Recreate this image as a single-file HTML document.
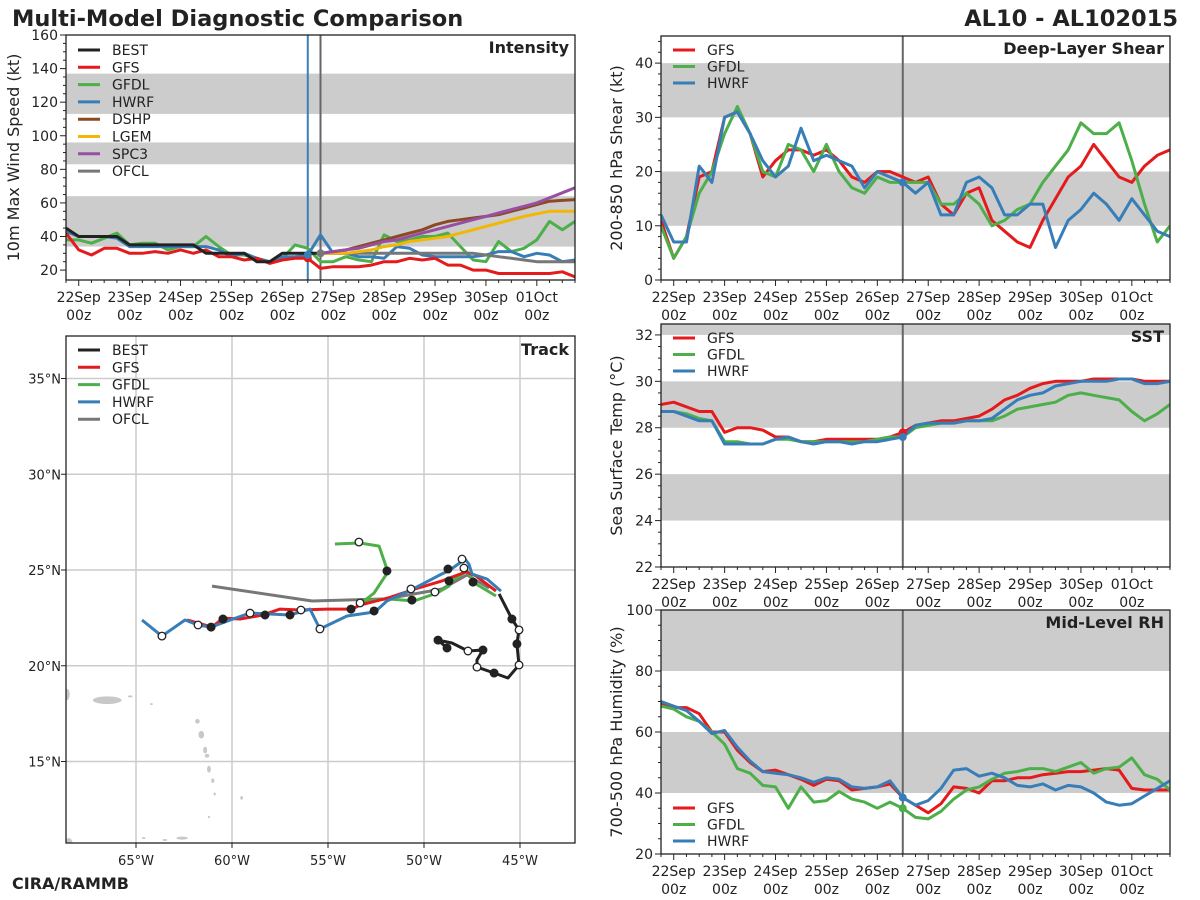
<!DOCTYPE html>
<html><head><meta charset="utf-8"><title>Multi-Model Diagnostic Comparison</title>
<style>
html,body{margin:0;padding:0;background:#fff;}
svg{display:block;font-family:"DejaVu Sans","Liberation Sans",sans-serif;}
</style></head>
<body>
<svg id="fig" width="1200" height="900" viewBox="0 0 1200 900" xmlns="http://www.w3.org/2000/svg">
<text x="12" y="26" font-size="22.5" font-weight="bold" fill="#222">Multi-Model Diagnostic Comparison</text>
<text x="1178" y="26" font-size="22.5" font-weight="bold" fill="#222" text-anchor="end">AL10 - AL102015</text>
<text x="12" y="889" font-size="16" font-weight="bold" fill="#222">CIRA/RAMMB</text>
</svg>
<script>
// ---------- DATA ----------
const T = [-0.25,0,0.25,0.5,0.75,1,1.25,1.5,1.75,2,2.25,2.5,2.75,3,3.25,3.5,3.75,4,4.25,4.5,4.75,5,5.25,5.5,5.75,6,6.25,6.5,6.75,7,7.25,7.5,7.75,8,8.25,8.5,8.75,9,9.25,9.5,9.75];
const dayLabels = ["22Sep","23Sep","24Sep","25Sep","26Sep","27Sep","28Sep","29Sep","30Sep","01Oct"];
const nowT = 4.5;
const ofclT = 4.75;

const intBEST = [45,40,40,40,40,35,35,35,35,35,35,30,30,30,30,25,25,30,30,30,30];
const intGFS  = [42,32,29,33,33,30,30,31,30,32,30,32,28,28,26,27,24,26,27,27,21,22,22,22,23,25,25,27,26,27,23,23,20,20,18,18,18,18,18,19,16];
const intGFDL = [38,38,36,39,42,35,36,36,32,34,34,40,34,29,29,27,25,27,35,33,25,25,28,26,25,41,37,38,40,40,42,34,26,25,37,31,33,38,49,44,49];
const intHWRF = [43,40,40,40,39,34,34,34,34,34,34,34,32,28,30,27,25,28,28,29,41,30,30,28,28,27,34,33,29,28,28,28,28,29,31,31,28,30,29,25,26];
const intDSHP = [30,31,32,34,36,38,40,42,44,47,49,50,51,52,53,55,57,59,61,61.5,62];
const intLGEM = [30,30,30,31,32,34,35,37,38,39,40,42,44,46,48,50,52,53.5,55,55,55];
const intSPC3 = [30,31,32,33,35,37,38,40,42,44,46,48,50,52,54,56,58,60,63,66,69];
const intOFCL = [30,30,30,30,30,30,30,30,30,30,30,30,30,29,28,27,26,25,25,25,25];
const fcstStart = 20;

const shrGFS  = [11,4,8,19,20,30,31,27,19,22,24,24,23,24,22,19,18,20,20,19,18,19,14,12,16,17,11,9,7,6,11,15,19,21,25,22,19,18,21,23,24];
const shrGFDL = [10,4,8,16,20,27,32,27,20,19,25,24,20,25,20,17,16,19,18,18,18,18,14,14,16,14,10,11,13,14,18,21,24,29,27,27,29,22,14,7,10];
const shrHWRF = [12,7,7,21,18,30,31,27,22,19,21,28,22,23,22,21,17,20,19,18,16,18,12,12,18,19,17,12,12,14,14,6,11,13,16,14,11,15,12,9,8];

const sstGFS  = [29.0,29.1,28.9,28.7,28.7,27.8,28.0,28.0,27.9,27.6,27.6,27.4,27.4,27.5,27.5,27.5,27.5,27.5,27.6,27.8,28.1,28.2,28.3,28.3,28.4,28.5,28.8,29.2,29.4,29.7,29.9,30.0,30.0,30.0,30.1,30.1,30.1,30.1,30.0,30.0,30.0];
const sstGFDL = [28.7,28.7,28.6,28.4,28.3,27.4,27.4,27.3,27.3,27.5,27.5,27.4,27.4,27.4,27.4,27.4,27.4,27.5,27.6,27.6,28.0,28.1,28.2,28.2,28.3,28.3,28.3,28.5,28.8,28.9,29.0,29.1,29.4,29.5,29.4,29.3,29.2,28.7,28.3,28.6,29.0];
const sstHWRF = [28.7,28.7,28.5,28.3,28.3,27.3,27.3,27.3,27.3,27.5,27.6,27.4,27.3,27.4,27.4,27.3,27.4,27.4,27.5,27.6,28.1,28.2,28.2,28.2,28.3,28.3,28.4,28.8,29.2,29.4,29.5,29.8,29.9,30.0,30.0,30.0,30.1,30.1,29.9,29.9,30.0];

const rhGFS  = [69,68,68,66,60,60,54,50,47,47.5,46,44.5,42.5,44.5,44,41,41.5,42,43,38.5,36,33.5,36.5,42,41.5,40,44,44,45,45,46,46.5,47,47,47.5,48,47.5,41.5,41,41,41];
const rhGFDL = [68.5,67.5,65,63.5,60,56,48,46.5,42.5,42,35,42,37,37.5,40.5,38,37,35,37,35,32,31.5,34,38,41,42,44.5,46.5,47,48,48,47,48.5,50,46.5,48,48.5,51.5,46,44.5,41];
const rhHWRF = [70,68.5,67,63.5,59.5,60.5,55,50.5,47,46.5,46,45,43.5,45,44.5,42,41.5,42,44,38.5,36,37.5,41.5,47.5,48,45.5,46.5,45,42.5,42,43,41,42.5,42,40,37,36,36.5,39,41.5,44];

// Track data (lon, lat)
const trkHWRFlon = [-64.69,-63.65,-62.45,-61.77,-61.09,-59.95,-59.06,-56.98,-55.94,-55.42,-54.01,-52.55,-51.93,-50.57,-49.27,-48.65,-47.86,-47.66,-47.50,-46.72,-45.99];
const trkHWRFlat = [22.39,21.55,22.39,22.13,22.02,22.44,22.75,22.65,22.96,21.92,22.60,22.81,23.38,24.01,24.69,25.0,25.57,25.31,24.79,24.53,23.90];
const trkGFSlon = [-62.34,-61.04,-60.47,-59.58,-58.39,-57.50,-56.46,-55.05,-53.75,-53.33,-51.88,-50.47,-49.06,-47.81,-47.29,-46.25];
const trkGFSlat = [22.39,22.02,22.49,22.44,22.65,22.96,22.91,22.96,22.96,23.17,23.54,24.01,24.43,24.90,24.69,23.90];
const trkGFDLlon = [-54.64,-53.33,-52.34,-51.88,-52.60,-53.13,-51.88,-50.52,-49.32,-48.70,-48.54,-47.76,-47.29,-46.25];
const trkGFDLlat = [26.36,26.41,26.25,24.90,23.80,23.38,23.49,23.38,23.80,24.16,24.43,24.95,24.27,23.64];
const trkOFCLlon = [-61.04,-55.83,-51.98,-49.06,-47.76,-46.61];
const trkOFCLlat = [24.16,23.38,23.49,24.01,24.74,24.06];
const trkBESTlon = [-48.80,-49.27,-48.54,-47.71,-46.93,-47.24,-47.24,-46.35,-45.63,-45.05,-45.16,-45.05,-45.42,-46.09];
const trkBESTlat = [20.93,21.34,21.19,20.77,20.82,20.30,19.93,19.62,19.36,20.04,21.14,21.87,22.44,23.75];
const mkOpenLon = [-63.65,-61.77,-59.06,-56.41,-55.42,-53.39,-53.33,-50.68,-49.43,-48.02,-47.92,-47.71,-47.24,-45.05,-45.05];
const mkOpenLat = [21.55,22.13,22.75,22.91,21.92,26.46,23.28,24.01,23.85,25.57,25.10,20.77,19.93,20.04,21.87];
const mkFillLon = [-61.09,-60.47,-58.28,-56.98,-53.80,-52.60,-51.93,-50.63,-48.75,-48.70,-47.45,-46.93,-46.35,-45.16,-45.42,-49.27,-48.80];
const mkFillLat = [22.02,22.44,22.65,22.65,22.96,22.86,24.95,23.43,25.05,24.43,24.37,20.82,19.62,21.14,22.44,21.34,20.93];
const lonTicks = [-65,-60,-55,-50,-45];
const latTicks = [15,20,25,30,35];
// islands: lon, lat, rx(deg), ry(deg)
const islLon = [-66.5,-68.6,-65.3,-64.2,-61.8,-61.6,-61.4,-61.3,-61.2,-61.0,-60.9,-59.5,-61.2,-62.6,-63.5,-68.5,-64.6];
const islLat = [18.2,18.5,18.4,18.0,17.1,16.4,15.6,15.3,14.6,14.0,13.3,13.1,12.1,11.0,10.9,10.7,11.0];
const islRx = [0.75,0.15,0.12,0.08,0.12,0.15,0.1,0.12,0.1,0.08,0.06,0.07,0.06,0.3,0.12,0.2,0.1];
const islRy = [0.2,0.3,0.05,0.05,0.12,0.2,0.18,0.1,0.18,0.12,0.08,0.1,0.06,0.08,0.05,0.3,0.05];

// ---------- RENDERING ----------
const NS = "http://www.w3.org/2000/svg";
const svg = document.getElementById("fig");
const COL = {BEST:"#222222",GFS:"#e41a1c",GFDL:"#4daf4a",HWRF:"#377eb8",DSHP:"#8c4a22",LGEM:"#f2b705",SPC3:"#984ea3",OFCL:"#777777"};

function el(tag, attrs, parent){
  const e = document.createElementNS(NS, tag);
  for (const k in attrs) e.setAttribute(k, attrs[k]);
  (parent||svg).appendChild(e);
  return e;
}

function timePanel(p){
  const g = el("g", {});
  
  
  const X = t => p.x0 + (t + 0.25) * (p.x1 - p.x0) / 10;
  const Y = v => p.y1 - (v - p.vmin) * (p.y1 - p.y0) / (p.vmax - p.vmin);
  const clipId = "clip-" + p.name;
  const cp = el("clipPath", {id: clipId}, g);
  el("rect", {x:p.x0, y:p.y0, width:p.x1-p.x0, height:p.y1-p.y0}, cp);
  p.bands.forEach(b => {
    const lo = Math.max(b[0], p.vmin), hi = Math.min(b[1], p.vmax);
    const r = el("rect", {x:p.x0, y:Y(hi), width:p.x1-p.x0, height:Y(lo)-Y(hi), fill:"#cccccc"}, g);
    
    
  });
  for (let v = p.vmin0; v <= p.vmax + 1e-9; v += p.minor){
    if (v < p.vmin - 1e-9) continue;
    const major = Math.abs(((v - p.vmin0) / p.major) - Math.round((v - p.vmin0) / p.major)) < 1e-6;
    el("line", {x1:p.x0 - (major ? 6 : 3), x2:p.x0, y1:Y(v), y2:Y(v), stroke:"#222", "stroke-width":1}, g);
    if (major){
      const tx = el("text", {x:p.x0 - 8, y:Y(v) + 5, "text-anchor":"end", "font-size":14, fill:"#222"}, g);
      
      
      tx.textContent = String(v);
    }
  }
  T.forEach(t => {
    const major = Math.abs(t - Math.round(t)) < 1e-9;
    el("line", {x1:X(t), x2:X(t), y1:p.y1, y2:p.y1 + (major ? 6 : 3), stroke:"#222", "stroke-width":1}, g);
  });
  if (p.xlabels){
    dayLabels.forEach((d, i) => {
      const a = el("text", {x:X(i), y:p.y1 + 22, "text-anchor":"middle", "font-size":14, fill:"#222"}, g);
      
      
      a.textContent = d;
      const b = el("text", {x:X(i), y:p.y1 + 40, "text-anchor":"middle", "font-size":14, fill:"#222"}, g);
      
      
      b.textContent = "00z";
    });
  }
  const cy = (p.y0 + p.y1) / 2;
  const yt = el("text", {x:p.ytx, y:cy, transform:`rotate(-90 ${p.ytx} ${cy})`, "text-anchor":"middle", "font-size":16, fill:"#222"}, g);
  
  
  yt.textContent = p.ytitle;
  p.vlines.forEach(v => {
    const l = el("line", {x1:X(v[0]), x2:X(v[0]), y1:p.y0, y2:p.y1, stroke:v[1], "stroke-width":2}, g);
    
    
  });
  const sg = el("g", {"clip-path":`url(#${clipId})`}, g);
  p.series.forEach(s => {
    const pts = s.v.map((v, i) => X(T[i + (s.start||0)]).toFixed(1) + "," + Y(v).toFixed(1)).join(" ");
    const pl = el("polyline", {points:pts, fill:"none", stroke:COL[s.k], "stroke-width":3, "stroke-linejoin":"round"}, sg);
    
    
  });
  (p.dots||[]).forEach(d => {
    const idx = T.indexOf(d[0]);
    const c = el("circle", {cx:X(d[0]), cy:Y(d[1][idx - (d[3]||0)]), r:4, fill:COL[d[2]]}, sg);
    
    
  });
  el("rect", {x:p.x0, y:p.y0, width:p.x1-p.x0, height:p.y1-p.y0, fill:"none", stroke:"#222", "stroke-width":1.3}, g);
  const tt = el("text", {x:p.x1 - 6, y:p.y0 + 18, "text-anchor":"end", "font-size":16, "font-weight":"bold", fill:"#222"}, g);
  
  
  tt.textContent = p.title;
  legend(g, p.legX, p.legY, p.legKeys, p.legDy);
}

function legend(g, lx, ly, keys, dy){
  const lg = el("g", {}, g);
  
  
  keys.forEach((k, i) => {
    const y = ly + i * dy;
    const ln = el("line", {x1:lx, x2:lx + 22, y1:y, y2:y, stroke:COL[k], "stroke-width":3}, lg);
    
    
    const tx = el("text", {x:lx + 34, y:y + 5, "font-size":14, fill:"#222"}, lg);
    
    
    tx.textContent = k;
  });
}

timePanel({name:"intensity-panel", x0:66, x1:575, y0:35, y1:280, vmin:14.1, vmax:160, vmin0:20, major:20, minor:5,
  bands:[[34,64],[83,96],[113,137]], xlabels:true, ytx:19, ytitle:"10m Max Wind Speed (kt)", title:"Intensity",
  vlines:[[nowT,"#3a7fb8"],[ofclT,"#666666"]],
  series:[{k:"GFDL",v:intGFDL},{k:"HWRF",v:intHWRF},{k:"GFS",v:intGFS},{k:"OFCL",v:intOFCL,start:fcstStart},{k:"LGEM",v:intLGEM,start:fcstStart},{k:"DSHP",v:intDSHP,start:fcstStart},{k:"SPC3",v:intSPC3,start:fcstStart},{k:"BEST",v:intBEST}],
  dots:[[nowT,intGFS,"GFS"],[nowT,intHWRF,"HWRF"],[ofclT,intOFCL,"OFCL",fcstStart]],
  legX:78, legY:50, legKeys:["BEST","GFS","GFDL","HWRF","DSHP","LGEM","SPC3","OFCL"], legDy:17.3});

timePanel({name:"shear-panel", x0:661, x1:1170, y0:36, y1:280, vmin:0, vmax:45, vmin0:0, major:10, minor:2,
  bands:[[10,20],[30,40]], xlabels:true, ytx:622, ytitle:"200-850 hPa Shear (kt)", title:"Deep-Layer Shear",
  vlines:[[nowT,"#666666"]],
  series:[{k:"GFS",v:shrGFS},{k:"GFDL",v:shrGFDL},{k:"HWRF",v:shrHWRF}],
  dots:[[nowT,shrHWRF,"HWRF"]],
  legX:673, legY:50, legKeys:["GFS","GFDL","HWRF"], legDy:16.5});

timePanel({name:"sst-panel", x0:661, x1:1170, y0:324, y1:567, vmin:22, vmax:32.47, vmin0:22, major:2, minor:0.5,
  bands:[[24,26],[28,30],[32,40]], xlabels:true, ytx:622, ytitle:"Sea Surface Temp (°C)", title:"SST",
  vlines:[[nowT,"#666666"]],
  series:[{k:"GFS",v:sstGFS},{k:"GFDL",v:sstGFDL},{k:"HWRF",v:sstHWRF}],
  dots:[[nowT,sstGFS,"GFS"],[nowT,sstHWRF,"HWRF"]],
  legX:673, legY:338, legKeys:["GFS","GFDL","HWRF"], legDy:16.5});

timePanel({name:"rh-panel", x0:661, x1:1170, y0:610, y1:854, vmin:20, vmax:100, vmin0:20, major:20, minor:5,
  bands:[[40,60],[80,100]], xlabels:true, ytx:622, ytitle:"700-500 hPa Humidity (%)", title:"Mid-Level RH",
  vlines:[[nowT,"#666666"]],
  series:[{k:"GFS",v:rhGFS},{k:"GFDL",v:rhGFDL},{k:"HWRF",v:rhHWRF}],
  dots:[[nowT,rhGFDL,"GFDL"],[nowT,rhHWRF,"HWRF"]],
  legX:673, legY:808, legKeys:["GFS","GFDL","HWRF"], legDy:16.5});

// ---------- TRACK ----------
(function(){
  const x0 = 66, x1 = 575, y0 = 336, y1 = 843;
  const LX = lon => 136 + (lon + 65) * 19.2;
  const LY = lat => 570 - (lat - 25) * 19.15;
  const g = el("g", {});
  
  
  const cp = el("clipPath", {id:"clip-track"}, g);
  el("rect", {x:x0, y:y0, width:x1-x0, height:y1-y0}, cp);
  const inner = el("g", {"clip-path":"url(#clip-track)"}, g);
  islLon.forEach((lon, i) => {
    const e = el("ellipse", {cx:LX(lon), cy:LY(islLat[i]), rx:islRx[i]*19.2, ry:islRy[i]*19.15, fill:"#c8c8c8"}, inner);
    
    
  });
  lonTicks.forEach(lon => {
    el("line", {x1:LX(lon), x2:LX(lon), y1:y0, y2:y1, stroke:"#cccccc", "stroke-width":1.5}, inner);
    el("line", {x1:LX(lon), x2:LX(lon), y1:y1, y2:y1 + 5, stroke:"#222"}, g);
    const t = el("text", {x:LX(lon), y:y1 + 22, "text-anchor":"middle", "font-size":13, fill:"#222"}, g);
    
    
    t.textContent = Math.abs(lon) + "°W";
  });
  latTicks.forEach(lat => {
    el("line", {x1:x0, x2:x1, y1:LY(lat), y2:LY(lat), stroke:"#cccccc", "stroke-width":1.5}, inner);
    el("line", {x1:x0 - 5, x2:x0, y1:LY(lat), y2:LY(lat), stroke:"#222"}, g);
    const t = el("text", {x:x0 - 5, y:LY(lat) + 5, "text-anchor":"end", "font-size":13, fill:"#222"}, g);
    
    
    t.textContent = lat + "°N";
  });
  const tracks = [["OFCL",trkOFCLlon,trkOFCLlat],["GFDL",trkGFDLlon,trkGFDLlat],["GFS",trkGFSlon,trkGFSlat],["HWRF",trkHWRFlon,trkHWRFlat],["BEST",trkBESTlon,trkBESTlat]];
  tracks.forEach(tr => {
    const pts = tr[1].map((lon, i) => LX(lon).toFixed(1) + "," + LY(tr[2][i]).toFixed(1)).join(" ");
    const pl = el("polyline", {points:pts, fill:"none", stroke:COL[tr[0]], "stroke-width":3, "stroke-linejoin":"round"}, inner);
    
    
  });
  mkFillLon.forEach((lon, i) => {
    const c = el("circle", {cx:LX(lon), cy:LY(mkFillLat[i]), r:4, fill:"#222", stroke:"#222"}, inner);
    
    
  });
  mkOpenLon.forEach((lon, i) => {
    const c = el("circle", {cx:LX(lon), cy:LY(mkOpenLat[i]), r:3.8, fill:"#fff", stroke:"#222", "stroke-width":1.3}, inner);
    
    
  });
  el("rect", {x:x0, y:y0, width:x1-x0, height:y1-y0, fill:"none", stroke:"#222", "stroke-width":1.3}, g);
  const tt = el("text", {x:x1 - 6, y:y0 + 19, "text-anchor":"end", "font-size":16, "font-weight":"bold", fill:"#222"}, g);
  
  
  tt.textContent = "Track";
  legend(g, 78, 350, ["BEST","GFS","GFDL","HWRF","OFCL"], 17.3);
})();
</script>
</body></html>
